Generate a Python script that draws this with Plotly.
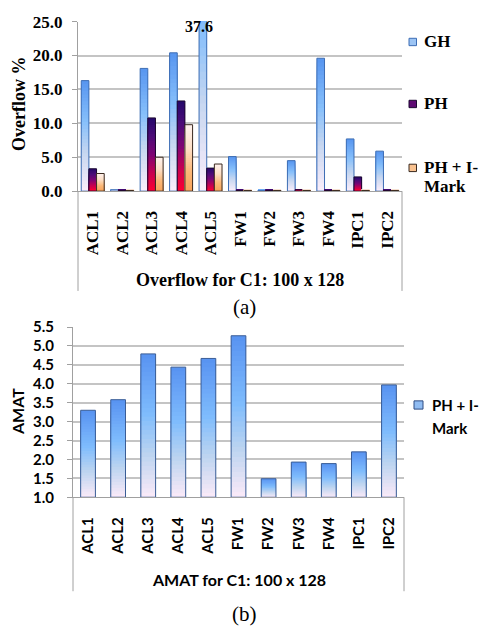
import plotly.graph_objects as go

# ---- data -------------------------------------------------------------
categories = ["ACL1", "ACL2", "ACL3", "ACL4", "ACL5", "FW1", "FW2", "FW3", "FW4", "IPC1", "IPC2"]

gh_overflow = [16.3, 0.2, 18.1, 20.4, 37.6, 5.1, 0.1, 4.5, 19.6, 7.7, 5.9]
ph_overflow = [3.3, 0.1, 10.8, 13.3, 3.4, 0.1, 0.1, 0.2, 0.1, 2.1, 0.1]
phi_overflow = [2.6, 0.1, 5.0, 9.8, 4.0, 0.1, 0.1, 0.1, 0.1, 0.1, 0.1]

amat_values = [3.30, 3.58, 4.79, 4.44, 4.67, 5.27, 1.49, 1.93, 1.89, 2.20, 3.97]

overflow_ticks = [0, 5, 10, 15, 20, 25]
amat_ticks = [1.0, 1.5, 2.0, 2.5, 3.0, 3.5, 4.0, 4.5, 5.0, 5.5]

series_names = ["GH", "PH", "PH + I-"]
legend_tail = "Mark"

# ---- page geometry helpers -------------------------------------------
W, H = 479, 639


def px(x):
    return x / W


def py(y):
    return 1 - y / H


SERIF = "Liberation Serif"
SANS = "Lato"
SLICES = 32

GH_STOPS = [(0.0, "#fbeefa"), (0.35, "#c6d6f0"), (0.62, "#88c0fb"), (1.0, "#5795f0")]
PH_STOPS = [(0.0, "#ff0030"), (0.25, "#c60050"), (0.5, "#7e0474"), (0.75, "#4c0c78"), (1.0, "#24086a")]
PHI_STOPS = [(0.0, "#f8a45c"), (0.3, "#fbb878"), (0.65, "#fde0c8"), (1.0, "#fff3ef")]
AMAT_STOPS = [(0.0, "#fbeaf8"), (0.3, "#bcd4f0"), (0.58, "#7fbcfd"), (1.0, "#5892f1")]


def hex_rgb(h):
    h = h.lstrip("#")
    return tuple(int(h[i:i + 2], 16) for i in (0, 2, 4))


def gradient_color(stops, t):
    for (t0, c0), (t1, c1) in zip(stops[:-1], stops[1:]):
        if t <= t1:
            f = 0 if t1 == t0 else (t - t0) / (t1 - t0)
            a, b = hex_rgb(c0), hex_rgb(c1)
            return "rgb(%d,%d,%d)" % tuple(round(a[i] + (b[i] - a[i]) * f) for i in range(3))
    return stops[-1][1]


fig = go.Figure()


def add_gradient_bars(values, stops, line_color, width, offset, axes, base=None):
    """Each bar is painted as nested layers so it fades from bottom to top."""
    xa, ya = axes
    for k in range(SLICES):
        frac = (SLICES - k) / SLICES
        t = (SLICES - k - 0.5) / SLICES
        fig.add_trace(go.Bar(
            x=categories, y=[v * frac for v in values], base=base,
            width=width, offset=offset, xaxis=xa, yaxis=ya,
            marker=dict(color=gradient_color(stops, t), line=dict(width=0)),
            showlegend=False, hoverinfo="skip",
        ))
    fig.add_trace(go.Bar(
        x=categories, y=values, base=base, width=width, offset=offset,
        xaxis=xa, yaxis=ya,
        marker=dict(color="rgba(0,0,0,0)", line=dict(color=line_color, width=1)),
        showlegend=False, hoverinfo="skip",
    ))


# (a) overflow, three grouped series
add_gradient_bars(gh_overflow, GH_STOPS, "#3d6db4", 0.26, -0.39, ("x", "y"))
add_gradient_bars(ph_overflow, PH_STOPS, "#1b0830", 0.26, -0.13, ("x", "y"))
add_gradient_bars(phi_overflow, PHI_STOPS, "#3a2a20", 0.26, 0.13, ("x", "y"))

# (b) AMAT, bars rise from the axis floor
amat_floor = amat_ticks[0]
add_gradient_bars([v - amat_floor for v in amat_values], AMAT_STOPS, "#3a5d96",
                  0.49, None, ("x2", "y2"), base=amat_floor)

GRID = "#c4c4c4"
AXIS = "#a0a0a0"

serif_bold = dict(family=SERIF, size=17, color="black", weight="bold")
sans_bold = dict(family=SANS, size=15, color="black", weight="bold")

fig.update_layout(
    width=W, height=H, autosize=False,
    margin=dict(l=0, r=0, t=0, b=0),
    paper_bgcolor="white", plot_bgcolor="white",
    barmode="overlay", showlegend=False, hovermode=False,
    xaxis=dict(
        domain=[px(78), px(402)], anchor="y", type="category",
        range=[-0.5, len(categories) - 0.5],
        showline=True, linecolor=AXIS, linewidth=1,
        showgrid=False, ticks="", tickangle=-90,
        tickfont=serif_bold, ticklabelstandoff=12,
    ),
    yaxis=dict(
        domain=[py(187), py(12)], anchor="x",
        range=[overflow_ticks[0], overflow_ticks[-1]],
        tickvals=overflow_ticks, ticktext=["%.1f" % v for v in overflow_ticks],
        showgrid=True, gridcolor=GRID, gridwidth=1.5,
        ticks="outside", ticklen=5, tickcolor=AXIS,
        showline=True, linecolor=AXIS, linewidth=1, zeroline=False,
        tickfont=serif_bold, ticklabelstandoff=6,
    ),
    xaxis2=dict(
        domain=[px(73), px(404)], anchor="y2", type="category",
        range=[-0.5, len(categories) - 0.5],
        showline=True, linecolor=AXIS, linewidth=1,
        showgrid=False, ticks="", tickangle=-90,
        tickfont=sans_bold, ticklabelstandoff=13,
    ),
    yaxis2=dict(
        domain=[py(503), py(327.3)], anchor="x2",
        range=[amat_ticks[0], amat_ticks[-1]],
        tickvals=amat_ticks, ticktext=["%.1f" % v for v in amat_ticks],
        showgrid=True, gridcolor=GRID, gridwidth=1.5,
        ticks="outside", ticklen=5, tickcolor=AXIS,
        showline=True, linecolor=AXIS, linewidth=1, zeroline=False,
        tickfont=sans_bold, ticklabelstandoff=10,
    ),
)

# category-area frame lines below each plot
shapes = [
    dict(type="line", xref="x domain", yref="y domain", x0=0, x1=0, y0=-103 / 175, y1=0,
         line=dict(color=AXIS, width=1)),
    dict(type="line", xref="x domain", yref="y domain", x0=1, x1=1, y0=-103 / 175, y1=0,
         line=dict(color=AXIS, width=1)),
    dict(type="line", xref="x2 domain", yref="y2 domain", x0=0, x1=0, y0=-97 / 175.7, y1=0,
         line=dict(color=AXIS, width=1)),
    dict(type="line", xref="x2 domain", yref="y2 domain", x0=1, x1=1, y0=-97 / 175.7, y1=0,
         line=dict(color=AXIS, width=1)),
]

annotations = [
    dict(text="Overflow %", x=px(19), y=py(97), textangle=-90, font=dict(serif_bold, size=18)),
    dict(text="Overflow for C1: 100 x 128", x=px(240), y=py(279), font=dict(serif_bold, size=18)),
    dict(text="(a)", x=px(244), y=py(307), font=dict(family=SERIF, size=21, color="black")),
    dict(text="AMAT", x=px(17), y=py(415), textangle=-90, font=dict(sans_bold, size=16)),
    dict(text="AMAT for C1: 100 x 128", x=px(239), y=py(588), font=dict(sans_bold, size=16)),
    dict(text="(b)", x=px(244), y=py(623), font=dict(family=SERIF, size=21, color="black")),
]

# values running past the top of the overflow axis are written above the bar
for cat, v in zip(categories, gh_overflow):
    if v > overflow_ticks[-1]:
        annotations.append(dict(text="%.1f" % v, xref="x", yref="y", x=cat, y=overflow_ticks[-1],
                                xshift=-12, yshift=-5, font=dict(serif_bold, size=16)))

# legends
legend_a = [
    (series_names[0], 33, "#9cc4f4", "#3d6db4"),
    (series_names[1], 97, "#5e0a72", "#1b0830"),
    (series_names[2], 163, "#f9c290", "#3a2a20"),
]
for name, yc, fill, edge in legend_a:
    shapes.append(dict(type="rect", xref="paper", yref="paper",
                       x0=px(409), x1=px(416.5), y0=py(yc + 3.8), y1=py(yc - 3.8),
                       fillcolor=fill, line=dict(color=edge, width=1)))
    annotations.append(dict(text=name, x=px(422), y=py(yc), xanchor="left",
                            font=serif_bold))
annotations.append(dict(text=legend_tail, x=px(422), y=py(182), xanchor="left", font=serif_bold))

shapes.append(dict(type="rect", xref="paper", yref="paper",
                   x0=px(414), x1=px(423), y0=py(412), y1=py(403.5),
                   fillcolor="#90bcf2", line=dict(color="#2e4c82", width=1)))
annotations.append(dict(text=series_names[2], x=px(430), y=py(408), xanchor="left", font=sans_bold))
annotations.append(dict(text=legend_tail, x=px(430), y=py(432), xanchor="left", font=sans_bold))

for a in annotations:
    a.setdefault("xref", "paper")
    a.setdefault("yref", "paper")
    a.setdefault("xanchor", "center")
    a.setdefault("yanchor", "middle")
    a.setdefault("showarrow", False)

fig.update_layout(shapes=shapes, annotations=annotations)

fig.write_html("out.html")
